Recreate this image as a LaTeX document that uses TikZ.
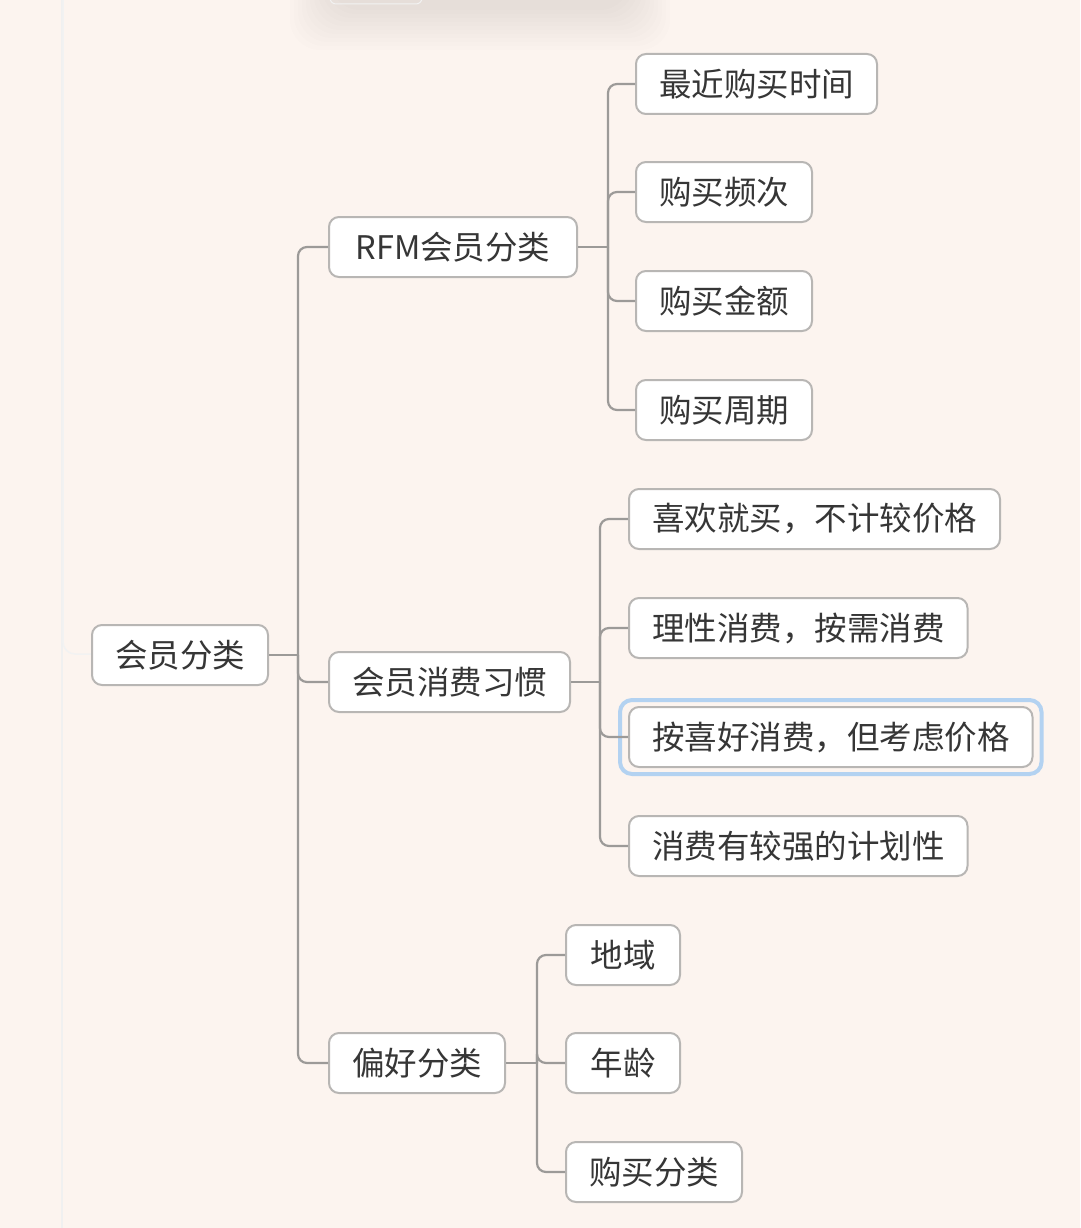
\documentclass[tikz,border=0pt]{standalone}
\usepackage{fontspec}
\setmainfont{Noto Sans CJK SC}
\usetikzlibrary{calc}

\definecolor{paper}{HTML}{FCF4EF}
\definecolor{boxline}{HTML}{B8B6B4}
\definecolor{linkgray}{HTML}{9C9A98}
\definecolor{inkgray}{HTML}{363636}
\definecolor{pickblue}{HTML}{B3D2F1}

\begin{document}
\begin{tikzpicture}[x=1pt,y=-1pt,
	topic_node/.style={rectangle,draw=boxline,line width=2pt,fill=white,rounded corners=10pt,
		minimum height=60pt,inner xsep=23pt,inner ysep=0pt,anchor=west,text=inkgray,
		font=\fontsize{32.5}{38}\selectfont},
	link/.style={draw=linkgray,line width=2.2pt,rounded corners=9pt}]

	% page and the faint panel edges
	\useasboundingbox[fill=paper] (0,0) rectangle (1080,1228);
	\draw[black!6,line width=1.5pt] (62,0) -- (62,1228);
	\draw[black!5,line width=1.5pt,rounded corners=12pt] (63,0) -- (63,654) -- (91,654);
	% blurred shadow at the top
	\foreach \s in {0,4,...,40}
		\fill[black,opacity=0.006,rounded corners=30pt] (290+\s,-40) rectangle (670-\s,50-\s);
	\draw[black!5,line width=1pt,rounded corners=6pt] (330,-10) rectangle (422,4);

	% root and first level
	\node[topic_node] (root) at (91,655){会员分类};
	\node[topic_node,minimum width=248pt] (rfm) at (328,247){RFM会员分类};
	\node[topic_node] (habit) at (328,682){会员消费习惯};
	\node[topic_node] (pref) at (328,1063){偏好分类};

	% RFM branch
	\node[topic_node] (rfm1) at (635,84){最近购买时间};
	\node[topic_node] (rfm2) at (635,192){购买频次};
	\node[topic_node] (rfm3) at (635,301){购买金额};
	\node[topic_node] (rfm4) at (635,410){购买周期};

	% consuming habit branch
	\node[topic_node] (habit1) at (628,519){喜欢就买，不计较价格};
	\node[topic_node] (habit2) at (628,628){理性消费，按需消费};
	\node[topic_node] (habit3) at (628,737){按喜好消费，但考虑价格};
	\node[topic_node] (habit4) at (628,846){消费有较强的计划性};
	% selected topic
	\draw[pickblue,line width=4pt,rounded corners=12pt]
		($(habit3.south west)+(-8,6)$) rectangle ($(habit3.north east)+(8,-6)$);

	% preference branch
	\node[topic_node,minimum width=114pt] (pref1) at (565,955){地域};
	\node[topic_node,minimum width=114pt] (pref2) at (565,1063){年龄};
	\node[topic_node] (pref3) at (565,1172){购买分类};

	% junctions on each trunk
	\coordinate (root_j) at ($(root.east)+(29,0)$);
	\coordinate (rfm_j) at ($(rfm.east)+(30,0)$);
	\coordinate (habit_j) at ($(habit.east)+(29,0)$);
	\coordinate (pref_j) at ($(pref.east)+(31,0)$);

	\path[link] (root.east) -- (root_j);
	\foreach \c in {rfm,habit,pref}
		\path[link] (root_j) |- (\c.west);

	\path[link] (rfm.east) -- (rfm_j);
	\foreach \c in {rfm1,rfm2,rfm3,rfm4}
		\path[link] (rfm_j) |- (\c.west);

	\path[link] (habit.east) -- (habit_j);
	\foreach \c in {habit1,habit2,habit3,habit4}
		\path[link] (habit_j) |- (\c.west);

	\path[link] (pref.east) -- (pref_j);
	\foreach \c in {pref1,pref2,pref3}
		\path[link] (pref_j) |- (\c.west);

\end{tikzpicture}
\end{document}
